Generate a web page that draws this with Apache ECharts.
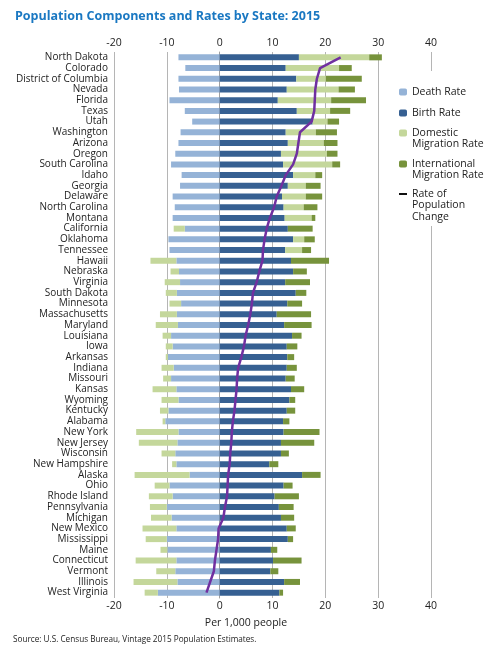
<!DOCTYPE html>
<html>
<head>
<meta charset="utf-8">
<script src="https://cdn.jsdelivr.net/npm/echarts@6/dist/echarts.min.js"></script>
<style>
html, body { margin: 0; padding: 0; background: #fff; }
#chart { width: 500px; height: 645px; }
</style>
</head>
<body>
<div id="chart"></div>
<script>
var states = ['North Dakota','Colorado','District of Columbia','Nevada','Florida','Texas','Utah','Washington','Arizona','Oregon','South Carolina','Idaho','Georgia','Delaware','North Carolina','Montana','California','Oklahoma','Tennessee','Hawaii','Nebraska','Virginia','South Dakota','Minnesota','Massachusetts','Maryland','Louisiana','Iowa','Arkansas','Indiana','Missouri','Kansas','Wyoming','Kentucky','Alabama','New York','New Jersey','Wisconsin','New Hampshire','Alaska','Ohio','Rhode Island','Pennsylvania','Michigan','New Mexico','Mississippi','Maine','Connecticut','Vermont','Illinois','West Virginia'];

var deathRate = [-7.8,-6.5,-7.8,-7.7,-9.5,-6.6,-5.2,-7.4,-7.8,-8.4,-9.2,-7.2,-7.5,-8.9,-8.5,-8.9,-6.6,-9.7,-9.5,-8.2,-7.7,-7.5,-8.1,-7.3,-8.1,-7.9,-9.2,-8.9,-9.8,-8.7,-9.2,-8.2,-7.8,-9.7,-10.3,-7.8,-8.0,-8.4,-8.2,-5.7,-9.5,-8.9,-10.0,-9.1,-8.2,-10.0,-9.9,-8.2,-8.4,-8.0,-11.7];
var birthRate = [15.0,12.5,14.5,12.7,11.0,14.6,17.6,12.5,12.9,11.6,12.0,13.9,12.9,11.8,12.1,12.3,12.9,13.9,12.4,13.5,13.9,12.4,14.4,12.8,10.8,12.2,13.7,12.7,12.8,12.7,12.5,13.5,13.2,12.7,12.0,12.1,11.6,11.6,9.4,15.6,12.1,10.4,11.2,11.6,12.7,12.9,9.7,10.1,9.6,12.2,11.3];
var domesticRate = [13.3,10.1,5.6,9.8,10.1,6.3,2.8,5.7,6.8,8.7,9.3,4.2,3.4,4.5,3.8,5.1,-2.1,2.1,3.2,-4.9,-1.6,-2.9,-2.1,-2.2,-3.2,-4.2,-1.6,-1.3,-0.4,-2.3,-1.5,-4.5,-3.2,-1.6,-0.5,-8.0,-7.3,-2.6,-0.8,-10.4,-2.8,-4.5,-3.2,-3.9,-6.4,-4.0,-1.3,-7.7,-3.6,-8.3,-2.5];
var intlRate = [2.4,2.4,6.8,3.1,6.6,3.8,2.2,4.0,2.6,2.0,1.5,1.3,2.8,3.1,2.6,0.7,4.7,2.0,1.7,7.2,2.6,4.7,2.0,2.8,6.5,5.2,1.8,2.0,1.3,1.9,1.7,2.5,1.1,1.6,1.2,6.8,6.3,1.5,1.7,3.5,1.7,4.6,2.8,2.5,1.7,1.0,1.2,5.4,1.5,3.0,0.7];
var changeRate = [22.9,19.0,18.4,18.1,18.0,17.9,17.4,15.2,14.9,14.6,13.9,12.5,11.7,10.8,10.3,9.5,8.9,8.5,8.2,8.1,7.5,7.0,6.3,6.1,5.8,5.4,4.9,4.6,4.1,3.5,3.3,3.2,3.0,2.8,2.5,2.3,2.2,2.0,1.9,1.6,1.5,1.4,1.0,0.7,-0.2,-0.3,-0.6,-0.9,-1.1,-1.8,-2.5];

var xTicks = [-20, 40, 10]; // min, max, interval

var FONT = 'Open Sans';
var LH = 11.5;
var chart = echarts.init(document.getElementById('chart'));

function bar(name, data, color) {
    return {
        name: name,
        type: 'bar',
        stack: 'total',
        barWidth: 6,
        data: data,
        itemStyle: { color: color },
        emphasis: { disabled: true }
    };
}

// legend labels, wrapped like the original
var legendText = {
    'Death Rate': ['Death Rate'],
    'Birth Rate': ['Birth Rate'],
    'Domestic Migration Rate': ['Domestic', 'Migration Rate'],
    'International Migration Rate': ['International', 'Migration Rate'],
    'Rate of Population Change': ['Rate of', 'Population', 'Change']
};

// one legend per entry; blank lines on top keep the icon level with the first line
function legendItem(name, firstLineY, icon) {
    var lines = legendText[name];
    var pad = [];
    for (var i = 1; i < lines.length; i++) pad.push(' ');
    var total = lines.length + pad.length;
    var lg = {
        data: [icon ? { name: name, icon: icon } : name],
        left: 399,
        top: firstLineY - total * LH / 2,
        padding: 0,
        orient: 'vertical',
        itemWidth: 8,
        itemHeight: icon ? 2 : 7,
        selectedMode: false,
        textStyle: { fontFamily: FONT, fontSize: 10.5, color: '#222', lineHeight: LH },
        formatter: function () {
            return pad.concat(lines).join('\n');
        }
    };
    if (icon) lg.itemStyle = { color: '#111' };
    return lg;
}

chart.setOption({
    animation: false,
    title: [{
        text: 'Population Components and Rates by State: 2015',
        left: 10, top: 5,
        textStyle: { fontFamily: FONT, fontSize: 12.5, fontWeight: 'bold', color: '#1a78c2' }
    }, {
        text: 'Per 1,000 people',
        left: 241, top: 613, textAlign: 'center',
        textStyle: { fontFamily: FONT, fontSize: 10.5, fontWeight: 'normal', color: '#222' }
    }, {
        text: 'Source: U.S. Census Bureau, Vintage 2015 Population Estimates.',
        left: 8, top: 631,
        textStyle: { fontFamily: FONT, fontSize: 8.2, fontWeight: 'normal', color: '#222' }
    }],
    graphic: [{
        type: 'rect', z: 3,
        shape: { x: 395, y: 71, width: 100, height: 155 },
        style: { fill: '#fff' }
    }],
    legend: [
        legendItem('Death Rate', 92),
        legendItem('Birth Rate', 113),
        legendItem('Domestic Migration Rate', 133),
        legendItem('International Migration Rate', 164),
        legendItem('Rate of Population Change', 194, 'rect')
    ],
    grid: { left: 114, right: 69, top: 52, bottom: 47 },
    xAxis: [{
        type: 'value', position: 'top',
        min: xTicks[0], max: xTicks[1], interval: xTicks[2],
        axisLine: { show: false }, axisTick: { show: false },
        axisLabel: { fontFamily: FONT, fontSize: 10.5, color: '#222', margin: 3 },
        splitLine: { lineStyle: { width: 1, color: ['#b5b5b5', '#b5b5b5', '#8a8a8a', '#b5b5b5', '#b5b5b5', '#b5b5b5', '#b5b5b5'] } }
    }, {
        type: 'value', position: 'bottom',
        min: xTicks[0], max: xTicks[1], interval: xTicks[2],
        axisLine: { show: false }, axisTick: { show: false },
        axisLabel: { fontFamily: FONT, fontSize: 10.5, color: '#222', margin: 3 },
        splitLine: { show: false }
    }],
    yAxis: {
        type: 'category', inverse: true, data: states,
        axisLine: { lineStyle: { color: '#a0a0a0' } },
        axisTick: { show: false },
        axisLabel: { fontFamily: FONT, fontSize: 10, color: '#222', margin: 6, interval: 0 }
    },
    series: [
        bar('Death Rate', deathRate, '#95b3d7'),
        bar('Birth Rate', birthRate, '#366092'),
        bar('Domestic Migration Rate', domesticRate, '#c4d79b'),
        bar('International Migration Rate', intlRate, '#77933c'),
        {
            name: 'Rate of Population Change',
            type: 'line',
            data: changeRate,
            symbol: 'none',
            z: 5,
            lineStyle: { color: '#7030a0', width: 2.5 },
            itemStyle: { color: '#7030a0' },
            emphasis: { disabled: true }
        }
    ]
});
</script>
</body>
</html>
